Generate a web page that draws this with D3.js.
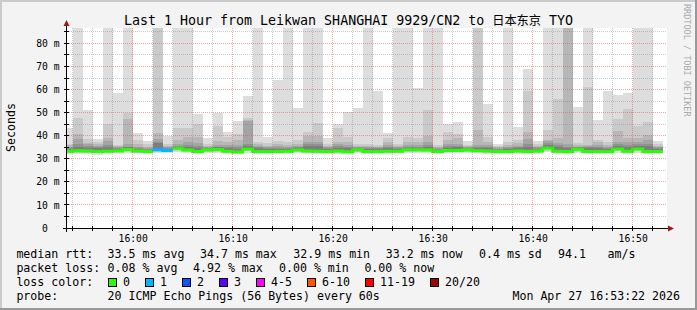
<!DOCTYPE html>
<html><head><meta charset="utf-8">
<script src="https://cdn.jsdelivr.net/npm/d3@7"></script>
<style>
body{margin:0;background:#f3f3f3}
text{font-family:"DejaVu Sans Mono",monospace}
</style>
</head><body>
<svg id="c" width="697" height="310"></svg>
<script>
// ---------------- data ----------------
const title = "Last 1 Hour from Leikwan SHANGHAI 9929/CN2 to ";
const titleCJK = "日本东京";
const titleEnd = " TYO";
// one sample per minute, first sample covers 15:53-15:54 (2026-04-27)
const firstSample = [15, 53];
// values in ms; 90 = beyond the top of the chart (clipped)
const rttMax = [43.5,90,51.2,38.6,90,58.6,90,41.0,37.8,90, 40.0,90,90,49.4,38.9,50.0,41.5,46.4,57.2,90, 39.6,64.1,90,52.0,90,90,39.2,45.0,50.3,52.1, 90,59.5,41.3,90,90,60.8,90,90,45.0,46.0, 37.7,90,53.7,36.4,90,43.8,68.9,37.7,90,90, 90,52.4,90,46.8,59.5,57.6,58.6,90,90,37.7];
const rtt19  = [36.5,47.8,38.5,37.2,45.1,36.0,50.0,38.3,36.2,90, 36.4,43.5,43.5,45.1,36.3,44.2,39.6,40.6,47.8,37.4, 36.7,37.8,37.2,38.1,41.7,45.7,36.5,43.5,39.3,36.4, 36.4,36.0,39.2,36.2,39.6,39.2,51.1,35.8,41.7,40.7, 36.0,90,39.3,35.5,37.1,38.1,59.5,36.3,42.5,55.9, 90,36.7,61.1,38.1,37.1,47.2,51.6,44.4,45.9,36.6];
const rtt18  = [35.8,40.8,37.0,36.4,39.0,35.5,47.3,36.5,35.2,41.2, 35.6,38.3,39.6,39.6,35.6,37.7,37.4,38.1,47.0,36.2, 35.7,36.3,36.0,36.4,39.9,39.9,35.6,37.4,37.4,35.6, 35.6,35.3,37.4,35.5,37.1,37.4,40.0,35.2,38.1,38.9, 35.4,42.5,37.4,35.0,35.8,36.7,41.7,35.5,38.1,38.9, 90,35.8,36.0,37.1,36.0,42.2,38.9,39.0,40.3,35.7];
const rtt17  = [35.2,38.6,36.3,35.6,37.8,35.0,36.5,35.3,34.8,38.5, 35.0,36.4,37.4,36.7,35.1,36.0,36.0,36.0,46.4,35.4, 35.1,35.4,35.3,35.6,37.1,37.4,35.0,36.3,36.0,35.0, 35.0,34.9,36.0,35.0,36.0,36.0,37.4,34.8,36.4,36.5, 35.0,36.0,36.0,34.6,35.2,35.7,38.6,35.0,37.5,36.8, 36.5,35.3,35.4,36.0,35.3,37.1,37.1,37.1,38.1,35.1];
const rtt16  = [34.8,36.5,35.5,35.0,36.0,34.6,35.3,34.8,34.3,37.4, 34.6,35.6,36.0,35.6,34.7,35.3,35.2,35.0,36.5,34.9, 34.6,34.8,34.8,35.0,36.2,36.4,34.6,35.6,35.2,34.6, 34.6,34.5,35.3,34.6,35.2,35.2,36.0,34.4,35.4,35.5, 34.6,35.2,35.2,34.2,34.7,35.0,36.2,34.6,36.8,35.8, 35.3,34.9,35.0,35.2,34.8,36.2,36.0,36.2,36.4,34.6];
const rtt15  = [34.4,35.3,34.8,34.5,35.2,34.3,34.9,34.4,33.9,36.8, 34.2,35.2,35.0,34.8,34.4,34.9,34.5,34.3,35.5,34.5, 34.2,34.3,34.3,34.5,35.4,35.5,34.2,34.8,34.5,34.3, 34.2,34.1,34.7,34.2,34.8,34.7,35.2,34.0,34.8,34.9, 34.3,34.6,34.6,33.9,34.2,34.5,35.3,34.2,35.8,35.0, 34.6,34.6,34.5,34.5,34.3,35.4,35.1,35.5,35.4,34.2];
const rttMedian = [33.3,33.5,33.4,33.2,33.3,33.4,34.0,33.4,33.1,33.9, 33.6,34.6,33.8,33.2,33.8,34.0,33.3,32.9,34.2,33.2, 33.2,33.2,33.3,33.8,33.4,33.3,33.2,33.4,33.0,33.8, 33.2,33.1,33.3,33.3,33.9,33.9,33.8,33.1,33.6,33.6, 33.8,33.5,33.4,33.1,33.1,33.4,33.1,33.4,34.7,33.3, 33.2,34.1,33.1,33.1,33.1,34.2,33.3,34.2,33.2,33.2];
const rttLow = [32.6,32.7,32.6,32.5,32.8,32.8,33.0,32.7,32.5,33.0, 32.8,33.4,33.0,32.6,32.9,33.1,32.6,32.3,33.2,32.6, 32.6,32.6,32.7,32.9,32.7,32.7,32.6,32.7,32.4,32.9, 32.6,32.5,32.7,32.7,33.0,33.0,32.9,32.5,32.8,32.8, 32.9,32.8,32.7,32.5,32.5,32.7,32.5,32.7,33.5,32.7, 32.6,33.1,32.5,32.5,32.5,33.2,32.7,33.2,32.6,32.6];
const rttMin = [31.9,32.2,31.9,31.8,32.3,32.4,32.6,32.3,32.1,32.6, 32.4,32.8,32.5,32.1,32.4,32.6,32.1,31.9,32.7,32.2, 32.1,32.2,32.3,32.4,32.3,32.2,32.2,32.2,31.9,32.5, 32.2,32.1,32.2,32.3,32.5,32.5,32.4,32.1,32.3,32.3, 32.4,32.3,32.2,32.0,32.1,32.2,32.0,32.2,32.9,32.2, 32.1,32.6,32.0,32.1,32.0,32.7,32.2,32.7,32.2,32.2];
const lossPings = [0,0,0,0,0,0,0,0,0,1, 1,0,0,0,0,0,0,0,0,0, 0,0,0,0,0,0,0,0,0,0, 0,0,0,0,0,0,0,0,0,0, 0,0,0,0,0,0,0,0,0,0, 0,0,0,0,0,0,0,0,0,0];
const xTickLabels = ["16:00","16:10","16:20","16:30","16:40","16:50"];
const yTickValues = [0,10,20,30,40,50,60,70,80];
const yMax = 86.67;
const lossLabels = ["0","1","2","3","4-5","6-10","11-19","20/20"];
const legendMedian = ["33.5 ms avg","34.7 ms max","32.9 ms min","33.2 ms now","0.4 ms sd","94.1","am/s"];
const legendLoss = ["0.08 % avg","4.92 % max","0.00 % min","0.00 % now"];
const probeText = "20 ICMP Echo Pings (56 Bytes) every 60s";
const stampText = "Mon Apr 27 16:53:22 2026";

// ---------------- styles ----------------
const lossColors = ["#26ff00","#00b8ff","#0059ff","#5e00ff","#ff00ff","#ff5500","#ff0000","#a00000"];
const smokeColors = ["#dddddd","#cacaca","#b7b7b7","#a4a4a4","#919191","#7e7e7e"];
function lossBucket(n){ if(n<=0) return 0; if(n<=3) return n; if(n<=5) return 4; if(n<=10) return 5; if(n<=19) return 6; return 7; }

const svg = d3.select("#c");
const W = 697, H = 310;
const L = 67, R = 667, T = 28, B = 228;
const day = (h,m,s=0)=>new Date(2026,3,27,h,m,s);

// background + 3d border
svg.append("rect").attr("width",W).attr("height",H).attr("fill","#f3f3f3");
svg.append("rect").attr("x",0).attr("y",0).attr("width",W).attr("height",2).attr("fill","#cbcbcb");
svg.append("rect").attr("x",0).attr("y",0).attr("width",2).attr("height",H).attr("fill","#cbcbcb");
svg.append("rect").attr("x",0).attr("y",H-2).attr("width",W).attr("height",2).attr("fill","#999");
svg.append("rect").attr("x",W-2).attr("y",0).attr("width",2).attr("height",H).attr("fill","#999");

const x = d3.scaleTime().domain([day(15,53,26), day(16,53,26)]).range([L,R]);
const y = d3.scaleLinear().domain([0,yMax]).range([B,T]);

svg.append("rect").attr("x",L).attr("y",T).attr("width",R-L).attr("height",B-T).attr("fill","#fff");
svg.append("clipPath").attr("id","pc").append("rect").attr("x",L).attr("y",T).attr("width",R-L).attr("height",B-T);
const plot = svg.append("g").attr("clip-path","url(#pc)");

const samples = rttMedian.map((m,i)=>({
  t0: day(firstSample[0], firstSample[1]+i), t1: day(firstSample[0], firstSample[1]+i+1),
  tops: [rttMax[i],rtt19[i],rtt18[i],rtt17[i],rtt16[i],rtt15[i]],
  bots: [rttMin[i],rttLow[i],m,m,m,m],
  med: m, loss: lossPings[i]
}));

// smoke
smokeColors.forEach((c,k)=>{
  plot.append("g").selectAll("rect").data(samples).join("rect")
    .attr("x",d=>x(d.t0)).attr("width",d=>x(d.t1)-x(d.t0))
    .attr("y",d=>y(d.tops[k])).attr("height",d=>Math.max(0,y(d.bots[k])-y(d.tops[k])))
    .attr("fill",c).attr("shape-rendering","crispEdges");
});

// median line, colored by loss
const runs=[]; samples.forEach(d=>{const b=lossBucket(d.loss); if(!runs.length||runs[runs.length-1].b!==b) runs.push({b,pts:[]}); runs[runs.length-1].pts.push([x(d.t0),y(d.med)],[x(d.t1),y(d.med)]);});
const line = d3.line();
plot.selectAll("path.med").data(runs).join("path").attr("class","med")
  .attr("d",r=>line(r.pts)).attr("fill","none").attr("stroke",r=>lossColors[r.b]).attr("stroke-width",3);

// grid (drawn over data)
const px = v=>Math.floor(v)+0.5;
const grid = svg.append("g");
const minorT = d3.timeMinute.every(2).range(x.domain()[0], x.domain()[1]).filter(t=>t.getMinutes()%10!==0);
const majorT = d3.timeMinute.every(10).range(x.domain()[0], x.domain()[1]);
const minorC = "rgba(120,120,120,0.38)", majorC = "rgba(225,80,80,0.5)";
grid.selectAll("line.vm").data(minorT).join("line").attr("x1",d=>px(x(d))).attr("x2",d=>px(x(d))).attr("y1",T).attr("y2",B)
  .attr("stroke",minorC).attr("stroke-dasharray","1,1");
grid.selectAll("line.hm").data(d3.range(5,yMax,10)).join("line").attr("y1",d=>px(y(d))).attr("y2",d=>px(y(d))).attr("x1",L).attr("x2",R)
  .attr("stroke",minorC).attr("stroke-dasharray","1,1");
grid.selectAll("line.vM").data(majorT).join("line").attr("x1",d=>px(x(d))).attr("x2",d=>px(x(d))).attr("y1",T).attr("y2",B)
  .attr("stroke",majorC).attr("stroke-dasharray","1,1");
grid.selectAll("line.hM").data(yTickValues.filter(v=>v>0)).join("line").attr("y1",d=>px(y(d))).attr("y2",d=>px(y(d))).attr("x1",L).attr("x2",R)
  .attr("stroke",majorC).attr("stroke-dasharray","1,1");

// axes lines + ticks
const ax = svg.append("g").attr("stroke","#000").attr("shape-rendering","crispEdges");
ax.append("line").attr("x1",63).attr("x2",668).attr("y1",228.5).attr("y2",228.5);
ax.append("line").attr("x1",66.5).attr("x2",66.5).attr("y1",232).attr("y2",26);
ax.selectAll("line.tx").data(minorT.concat(majorT)).join("line").attr("x1",d=>px(x(d))).attr("x2",d=>px(x(d))).attr("y1",226).attr("y2",231);
ax.selectAll("line.ty").data(d3.range(5,yMax,5)).join("line").attr("y1",d=>px(y(d))).attr("y2",d=>px(y(d))).attr("x1",64).attr("x2",69);
svg.append("path").attr("d","M63.5,26L69.5,26L66.5,20Z").attr("fill","#a01818");
svg.append("path").attr("d","M668,225.5L668,231.5L674,228.5Z").attr("fill","#a01818");

// x labels via d3 axis
const parse = d3.timeParse("%Y-%m-%d %H:%M");
const xa = d3.axisBottom(x).tickValues(xTickLabels.map(s=>parse("2026-04-27 "+s))).tickFormat(d3.timeFormat("%H:%M")).tickSize(0);
const gx = svg.append("g").attr("transform","translate(0,241.5)").call(xa);
gx.select(".domain").remove();
gx.selectAll("text").attr("y",0).attr("dy",null).attr("font-size","9.7px").attr("font-family","DejaVu Sans Mono").attr("fill","#000");

const ya = d3.axisLeft(y).tickValues(yTickValues).tickFormat(v=>v===0?"0\u00a0\u00a0":v+" m").tickSize(0).tickPadding(0);
const gy = svg.append("g").attr("transform","translate(59.5,0)").call(ya);
gy.select(".domain").remove();
gy.selectAll("text").attr("font-size","9.7px").attr("font-family","DejaVu Sans Mono").attr("fill","#000").attr("x",0);

// title
const tt = svg.append("text").attr("x",348.5).attr("y",25).attr("text-anchor","middle").attr("font-size","13.3px").attr("fill","#000");
tt.append("tspan").text(title);
tt.append("tspan").attr("font-family","Noto Sans CJK SC").attr("font-size","12.2px").text(titleCJK);
tt.append("tspan").text(titleEnd);

svg.append("text").attr("transform","translate(14.5,127.5) rotate(-90)").attr("text-anchor","middle").attr("font-size","11.6px").text("Seconds");
svg.append("text").attr("transform","translate(684,4) rotate(90)").attr("font-size","8.5px").attr("fill","#aaa").text("RRDTOOL / TOBI OETIKER");

// legend
const LF = "11.6px", CW = 7.0;
const lg = svg.append("g").attr("font-size",LF).attr("fill","#000");
lg.append("text").attr("x",16.4).attr("y",258).text("median rtt:");
const medX = [107.6,200,293.3,385.8,479,558,607.6];
legendMedian.forEach((s,i)=>lg.append("text").attr("x",medX[i]).attr("y",258).text(s));
lg.append("text").attr("x",16.4).attr("y",272).text("packet loss:");
const lossX = [107.6,193,279,364.4];
legendLoss.forEach((s,i)=>lg.append("text").attr("x",lossX[i]).attr("y",272).text(s));
lg.append("text").attr("x",16.4).attr("y",286).text("loss color:");
let bx = 108;
lossLabels.forEach((s,i)=>{
  lg.append("rect").attr("x",bx+0.5).attr("y",278.5).attr("width",8).attr("height",8).attr("fill",lossColors[i]).attr("stroke","#000").attr("stroke-width",1);
  lg.append("text").attr("x",bx+15).attr("y",286).text(s);
  bx = bx + 15 + s.length*CW + 15;
});
lg.append("text").attr("x",16.4).attr("y",300).text("probe:");
lg.append("text").attr("x",107.6).attr("y",300).text(probeText);
lg.append("text").attr("x",680).attr("y",300).attr("text-anchor","end").text(stampText);
</script>
</body></html>
